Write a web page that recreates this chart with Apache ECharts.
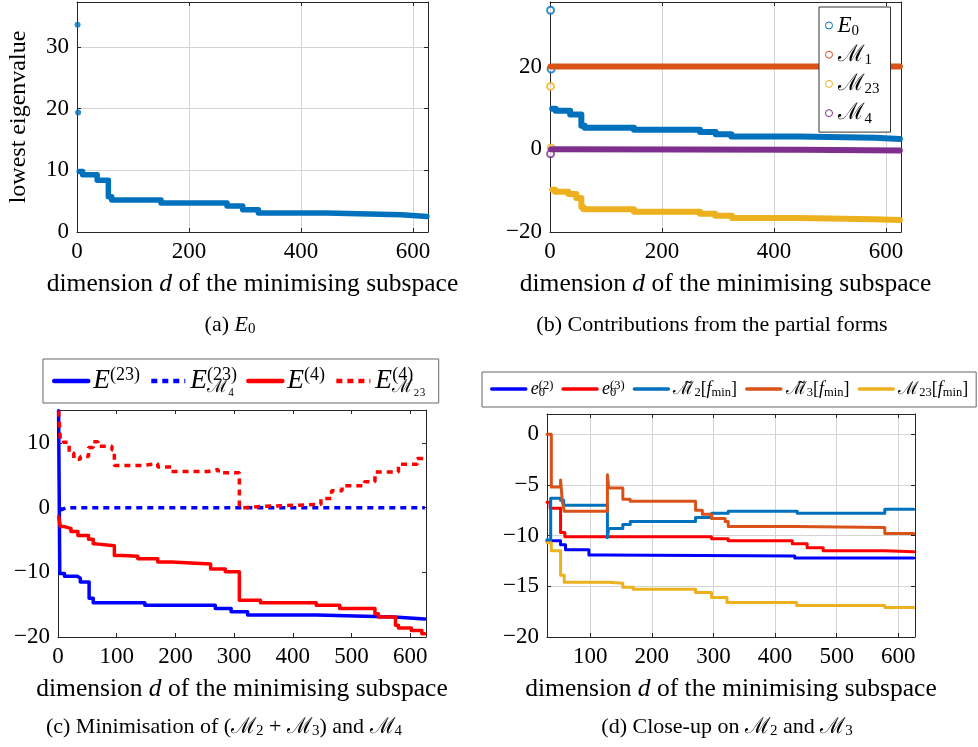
<!DOCTYPE html>
<html>
<head>
<meta charset="utf-8">
<script src="https://cdn.jsdelivr.net/npm/echarts@6.0.0/dist/echarts.min.js"></script>
<style>
  html, body { margin: 0; padding: 0; background: #fff; }
  #chart { width: 978px; height: 747px; }
</style>
</head>
<body>
<div id="chart"></div>
<script>
// ---- data: [dimension d, value] ----
// (a) and (b): lowest eigenvalue E0 (step-wise)
const e0Start = [[1, 33.6], [2, 19.4]];
const e0Steps = [[4, 9.8], [10, 9.3], [36, 8.4], [56, 5.7], [62, 5.2], [150, 4.7], [268, 4.2], [296, 3.6], [324, 3.1], [445, 2.8], [580, 2.5], [625, 2.5]];
// (b) partial forms
const m1Line = [[1, 20], [625, 20]];
const m23Start = [[1, 15.2], [2, 0.3]];
const m23Steps = [[4, -9.8], [9, -10.3], [33, -10.8], [47, -11.8], [56, -14.0], [60, -14.5], [150, -15.1], [268, -15.6], [295, -16.1], [325, -16.6], [445, -16.9], [578, -17.1], [625, -17.1]];
const m4Start = [[1, -1.1]];
const m4Line = [[2, 0.0], [450, -0.1], [625, -0.3]];
// (c) minimisation of (M2 + M3) and M4
const e23 = [[1, 15], [3, -10.2], [11, -10.6], [33, -10.9], [38, -11.5], [53, -14.0], [60, -14.7], [148, -15.1], [268, -15.6], [295, -16.1], [323, -16.6], [440, -16.9], [573, -17.2], [625, -17.2]];
const e23m4 = [[3, -0.4], [15, 0], [625, 0]];
const e4 = [[1, -1.4], [4, -2.9], [9, -3.2], [22, -3.7], [34, -4.3], [52, -4.9], [60, -5.6], [65, -5.9], [96, -7.4], [110, -7.5], [136, -7.9], [170, -8.4], [193, -8.7], [260, -9.5], [285, -9.9], [309, -14.3], [345, -14.7], [440, -15.1], [480, -15.6], [540, -16.4], [546, -16.9], [575, -18.2], [580, -18.6], [602, -19.0], [620, -19.5], [625, -19.5]];
const e4m23 = [[1, 15], [4, 10.5], [9, 10.1], [19, 8.5], [27, 7.5], [38, 7.9], [52, 9.3], [60, 10.2], [68, 9.5], [92, 8.9], [96, 6.5], [143, 6.8], [170, 6.3], [193, 5.6], [256, 5.9], [273, 5.4], [309, 0], [318, 0.2], [347, 0.5], [448, 1.4], [466, 2.6], [484, 3.4], [522, 4.0], [540, 5.5], [580, 6.7], [612, 7.6], [625, 7.6]];
// (d) close-up on M2 and M3
const e02 = [[30, -10.5], [52, -10.9], [60, -11.4], [98, -11.9], [123, -12.0], [432, -12.2], [625, -12.2]];
const e03 = [[30, -6.7], [35, -7.3], [52, -9.7], [59, -10.1], [297, -10.3], [324, -10.5], [428, -10.8], [452, -11.2], [478, -11.5], [578, -11.6], [625, -11.6]];
const m2t = [[30, -10.4], [36, -6.3], [52, -6.5], [57, -7.0], [128, -10.2], [130, -9.3], [153, -8.9], [165, -8.6], [271, -8.2], [297, -7.8], [324, -7.6], [436, -7.8], [578, -7.4], [625, -7.4]];
const m3t = [[30, 0], [37, -5.2], [52, -4.5], [55, -6.7], [58, -7.6], [128, -4.0], [130, -5.3], [153, -6.4], [165, -6.6], [271, -7.5], [282, -7.9], [297, -8.3], [319, -8.6], [324, -9.1], [433, -9.2], [578, -9.8], [625, -9.8]];
const m23f = [[30, -10.7], [37, -11.5], [52, -13.9], [58, -14.6], [130, -14.7], [153, -15.1], [170, -15.3], [271, -15.6], [297, -16.1], [322, -16.6], [435, -16.9], [578, -17.1], [625, -17.1]];
// tick values for the close-up, whose x axis starts at 30
const dTicks = [100, 200, 300, 400, 500, 600];

const SERIF = '"Liberation Serif", "DejaVu Serif", serif';
const AX = '#262626';
const GRIDC = '#d4d4d4';
const C = { mBlue: '#0072BD', mOrange: '#D95319', mYellow: '#EDB120', mPurple: '#7E2F8E', blue: '#0000FF', red: '#FF0000' };

const minus = v => String(v).replace('-', '\u2212');

// rich text styles: base size, small size, line height
function richSet(fs, ss, lh) {
  const b = { fontFamily: SERIF, color: '#000' };
  return {
    n: Object.assign({ fontSize: fs, lineHeight: lh, verticalAlign: 'middle' }, b),
    i: Object.assign({ fontSize: fs, lineHeight: lh, fontStyle: 'italic', verticalAlign: 'middle' }, b),
    sub: Object.assign({ fontSize: ss, lineHeight: ss, verticalAlign: 'bottom' }, b),
    sup: Object.assign({ fontSize: ss, lineHeight: ss, verticalAlign: 'top' }, b),
    subz: Object.assign({ fontSize: ss, lineHeight: ss, verticalAlign: 'bottom', width: 0 }, b)
  };
}

// bottom/top x axes and left/right y axes for one framed panel
function panelAxes(g, xr, yr, split, yName) {
  const line = { show: true, onZero: false, lineStyle: { color: AX, width: 1 } };
  const tick = { show: true, inside: true, length: 4, lineStyle: { color: AX } };
  const lab = { fontFamily: SERIF, fontSize: 23, color: '#000', formatter: minus, showMinLabel: true };
  const xs = [], ys = [];
  ['bottom', 'top'].forEach((pos, k) => {
    const ax = {
      type: 'value', gridIndex: g, position: pos, min: xr[0], max: xr[1],
      axisLine: line,
      axisTick: Object.assign({}, tick),
      axisLabel: Object.assign({ show: k === 0, margin: 8, showMaxLabel: !!xr[3] }, lab),
      splitLine: { show: split && k === 0, lineStyle: { color: GRIDC, width: 1 } }
    };
    if (xr[2]) ax.interval = xr[2];
    if (xr[3]) { ax.axisTick.customValues = xr[3]; ax.axisLabel.customValues = xr[3]; }
    if (k === 0) {
      ax.name = 'dimension {i|d} of the minimising subspace';
      ax.nameLocation = 'middle';
      ax.nameGap = 38;
      ax.nameTextStyle = { fontFamily: SERIF, fontSize: 25.5, color: '#000', rich: richSet(25.5, 16, 28) };
    }
    xs.push(ax);
  });
  ['left', 'right'].forEach((pos, k) => {
    const ax = {
      type: 'value', gridIndex: g, position: pos, min: yr[0], max: yr[1], interval: yr[2],
      axisLine: line,
      axisTick: Object.assign({}, tick),
      axisLabel: Object.assign({ show: k === 0, margin: 8, showMaxLabel: false }, lab),
      splitLine: { show: split && k === 0, lineStyle: { color: GRIDC, width: 1 } }
    };
    if (k === 0 && yName) {
      ax.name = yName;
      ax.nameLocation = 'middle';
      ax.nameRotate = 90;
      ax.nameGap = 46;
      ax.nameTextStyle = { fontFamily: SERIF, fontSize: 24, color: '#000' };
    }
    ys.push(ax);
  });
  return { xs, ys };
}

const pa = panelAxes(0, [0, 627, 200], [0, 37.3, 10], true, 'lowest eigenvalue');
const pb = panelAxes(1, [0, 627, 200], [-20, 35.6, 20], true);
const pc = panelAxes(2, [0, 627, 100], [-20, 15.1, 10], false);
const pd = panelAxes(3, [30, 627, null, dTicks], [-20, 2, 5], true);

function stepLine(name, g, data, color, width, extra) {
  return Object.assign({
    type: 'line', name, xAxisIndex: 2 * g, yAxisIndex: 2 * g, data,
    step: 'end', symbol: 'none', silent: true, clip: true,
    color, itemStyle: { color },
    lineStyle: { color, width, cap: 'round', join: 'round' }
  }, extra || {});
}
function dots(name, g, data, color, hollow) {
  return {
    type: 'scatter', name, xAxisIndex: 2 * g, yAxisIndex: 2 * g, data,
    symbol: hollow ? 'emptyCircle' : 'circle', symbolSize: hollow ? 7 : 6, silent: true,
    itemStyle: hollow ? { color: color, borderColor: color, borderWidth: 1 } : { color }
  };
}

const dash = [6, 5];
const series = [
  // (a)
  stepLine('E0a', 0, e0Steps, C.mBlue, 5.5),
  dots('E0a start', 0, e0Start, C.mBlue, false),
  // (b)
  stepLine('E0', 1, e0Steps, C.mBlue, 6),
  dots('E0 start', 1, e0Start, C.mBlue, true),
  stepLine('M1', 1, m1Line, C.mOrange, 6),
  stepLine('M23', 1, m23Steps, C.mYellow, 6),
  dots('M23 start', 1, m23Start, C.mYellow, true),
  stepLine('M4', 1, m4Line, C.mPurple, 6, { step: false }),
  dots('M4 start', 1, m4Start, C.mPurple, true),
  // (c)
  stepLine('E23', 2, e23, C.blue, 3.5),
  stepLine('E23M4', 2, e23m4, C.blue, 3.5, { step: false, lineStyle: { color: C.blue, width: 3.5, type: dash } }),
  stepLine('E4', 2, e4, C.red, 3.5),
  stepLine('E4M23', 2, e4m23, C.red, 3.5, { lineStyle: { color: C.red, width: 3.5, type: dash } }),
  // (d)
  stepLine('e02', 3, e02, C.blue, 3),
  stepLine('e03', 3, e03, C.red, 3),
  stepLine('M2t', 3, m2t, C.mBlue, 3),
  stepLine('M3t', 3, m3t, C.mOrange, 3),
  stepLine('M23f', 3, m23f, C.mYellow, 3)
];

const legendText = {
  E0: '{i|E}{sub|0}',
  M1: '{n|\u2133}{sub|1}',
  M23: '{n|\u2133}{sub|23}',
  M4: '{n|\u2133}{sub|4}',
  E23: '{i|E}{sup|(23)}',
  E23M4: '{i|E}{subz|\u2133\u2084}{sup|(23)}',
  E4: '{i|E}{sup|(4)}',
  E4M23: '{i|E}{subz|\u2133\u2082\u2083}{sup|(4)}',
  e02: '{i|e}{subz|0}{sup|(2)}',
  e03: '{i|e}{subz|0}{sup|(3)}',
  M2t: '{n|\u2133\u0303}{sub|2}{n|[}{i|f}{sub|min}{n|]}',
  M3t: '{n|\u2133\u0303}{sub|3}{n|[}{i|f}{sub|min}{n|]}',
  M23f: '{n|\u2133}{sub|23}{n|[}{i|f}{sub|min}{n|]}'
};
const fmtLegend = name => legendText[name];

const hollowItem = (name, color) => ({ name, icon: 'circle', itemStyle: { color: '#fff', borderColor: color, borderWidth: 1 } });

const legends = [
  {
    data: [hollowItem('E0', C.mBlue), hollowItem('M1', C.mOrange), hollowItem('M23', C.mYellow), hollowItem('M4', C.mPurple)],
    orient: 'vertical', left: 819, top: 7, itemWidth: 7, itemHeight: 7, itemGap: 4.7,
    padding: [7, 11, 6, 6], borderColor: '#333', borderWidth: 1, backgroundColor: '#fff',
    selectedMode: false, formatter: fmtLegend, textStyle: { rich: richSet(23, 15, 26) }
  },
  {
    data: ['E23', 'E23M4', 'E4', 'E4M23'],
    orient: 'horizontal', left: 43, top: 359, itemWidth: 34, itemHeight: 3, itemGap: 9,
    itemStyle: { opacity: 0 }, lineStyle: { width: 4.5 },
    padding: [7, 13, 7, 9], borderColor: '#666', borderWidth: 1,
    selectedMode: false, formatter: fmtLegend, textStyle: { rich: richSet(27.5, 18, 30) }
  },
  {
    data: ['e02', 'e03', 'M2t', 'M3t', 'M23f'],
    orient: 'horizontal', left: 482, top: 372, itemWidth: 34, itemHeight: 3, itemGap: 8,
    itemStyle: { opacity: 0 }, lineStyle: { width: 3.5 },
    padding: [7, 8, 8, 8], borderColor: '#666', borderWidth: 1,
    selectedMode: false, formatter: fmtLegend, textStyle: { rich: richSet(18, 12.5, 20) }
  }
];

function caption(x, y, text) {
  return {
    type: 'text', x, y, silent: true,
    style: { text, align: 'center', verticalAlign: 'middle', textAlign: 'center', textVerticalAlign: 'middle', rich: richSet(22, 15, 24) }
  };
}

const option = {
  animation: false,
  backgroundColor: '#fff',
  grid: [
    { left: 77, top: 2, width: 351, height: 230, containLabel: false, outerBoundsMode: 'none' },
    { left: 550, top: 2, width: 351, height: 230, containLabel: false, outerBoundsMode: 'none' },
    { left: 58, top: 410, width: 368, height: 227, containLabel: false, outerBoundsMode: 'none' },
    { left: 547, top: 414, width: 368, height: 223, containLabel: false, outerBoundsMode: 'none' }
  ],
  xAxis: [].concat(pa.xs, pb.xs, pc.xs, pd.xs),
  yAxis: [].concat(pa.ys, pb.ys, pc.ys, pd.ys),
  legend: legends,
  series: series,
  graphic: [
    caption(230, 325, '{n|(a) }{i|E}{sub|0}'),
    caption(712, 325, '{n|(b) Contributions from the partial forms}'),
    caption(224, 727, '{n|(c) Minimisation of (\u2133}{sub|2}{n| + \u2133}{sub|3}{n|) and \u2133}{sub|4}'),
    caption(727, 727, '{n|(d) Close-up on \u2133}{sub|2}{n| and \u2133}{sub|3}')
  ]
};

const myChart = echarts.init(document.getElementById('chart'), null, { renderer: 'canvas' });
myChart.setOption(option);
</script>
</body>
</html>
